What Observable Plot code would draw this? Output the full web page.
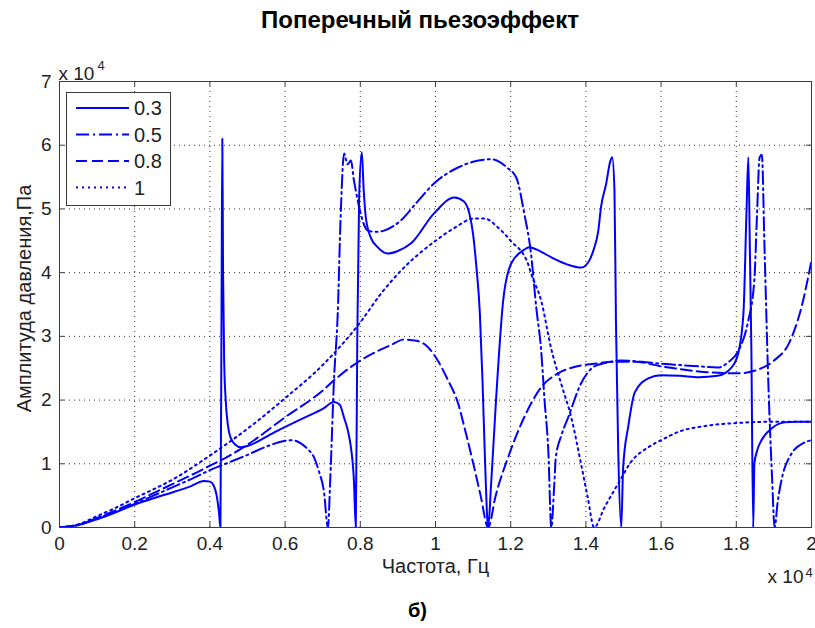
<!DOCTYPE html>
<html><head><meta charset="utf-8">
<script src="https://cdn.jsdelivr.net/npm/d3@7"></script>
<script src="https://cdn.jsdelivr.net/npm/@observablehq/plot@0.6"></script>
<style>
body{margin:0;background:#fff;font-family:"Liberation Sans",Arial,sans-serif;}
#wrap{position:relative;width:815px;height:628px;overflow:hidden;background:#fff}
#title{height:40px;line-height:40px;text-align:center;font-weight:bold;font-size:24px;padding-left:25px;box-sizing:border-box;color:#000}
#caption{height:40px;line-height:44px;text-align:center;font-weight:bold;font-size:20px;padding-left:20px;box-sizing:border-box;color:#000}
#legend{position:absolute;left:66px;top:92px;}
#chart svg{display:block}
</style></head>
<body>
<div id="wrap"><div id="title"></div><div id="chart"></div><div id="caption"></div><div id="legend"></div></div>
<script>
// ---- texts ----
const titleText = "Поперечный пьезоэффект";
const captionText = "б)";
const xLabel = "Частота, Гц";
const yLabel = "Амплитуда давления,Па";
const scaleText = "x 10";
const scaleExp = "4";

// ---- ticks (units of 10^4) ----
const xTicks = [0, 0.2, 0.4, 0.6, 0.8, 1, 1.2, 1.4, 1.6, 1.8, 2];
const xTickLabels = ["0", "0.2", "0.4", "0.6", "0.8", "1", "1.2", "1.4", "1.6", "1.8", "2"];
const yTicks = [0, 1, 2, 3, 4, 5, 6, 7];
const yTickLabels = ["0", "1", "2", "3", "4", "5", "6", "7"];

// ---- series (frequency x10^4 Hz, amplitude x10^4 Pa) ----
const seriesNames = ["0.3", "0.5", "0.8", "1"];

const x03 = [0, 0.05, 0.1, 0.15, 0.2, 0.25, 0.3, 0.35, 0.384, 0.4, 0.41, 0.418, 0.424, 0.428, 0.431, 0.433, 0.435, 0.438, 0.442, 0.448, 0.455, 0.468, 0.482, 0.5, 0.57, 0.65, 0.7, 0.73, 0.745, 0.757, 0.767, 0.775, 0.783, 0.788, 0.792, 0.797, 0.804, 0.809, 0.815, 0.828, 0.846, 0.873, 0.9, 0.935, 0.996, 1.05, 1.075, 1.09, 1.1, 1.108, 1.118, 1.125, 1.132, 1.14, 1.148, 1.161, 1.18, 1.201, 1.236, 1.249, 1.28, 1.308, 1.35, 1.387, 1.406, 1.42, 1.433, 1.44, 1.454, 1.465, 1.47, 1.476, 1.48, 1.486, 1.494, 1.499, 1.513, 1.53, 1.566, 1.6, 1.65, 1.7, 1.75, 1.787, 1.805, 1.819, 1.827, 1.832, 1.836, 1.84, 1.845, 1.848, 1.855, 1.867, 1.893, 1.928, 1.96, 2.0];
const y03 = [0, 0.04, 0.13, 0.24, 0.36, 0.46, 0.55, 0.65, 0.73, 0.72, 0.66, 0.5, 0.25, 0, 3.5, 6.1, 4.0, 2.6, 2.0, 1.6, 1.41, 1.3, 1.26, 1.28, 1.49, 1.72, 1.86, 1.97, 1.93, 1.72, 1.52, 1.26, 0.74, 0, 3.0, 5.2, 5.89, 5.3, 4.85, 4.55, 4.40, 4.30, 4.34, 4.46, 4.93, 5.18, 5.12, 4.93, 4.6, 4.14, 3.36, 2.3, 1.0, 0, 0.69, 2.0, 3.56, 4.14, 4.36, 4.40, 4.33, 4.24, 4.13, 4.08, 4.16, 4.35, 4.66, 5.02, 5.4, 5.75, 5.81, 5.29, 3.2, 1.2, 0, 0.94, 1.6, 2.12, 2.34, 2.39, 2.38, 2.36, 2.38, 2.51, 2.73, 3.36, 4.93, 5.81, 4.4, 2.83, 0, 1.0, 1.2, 1.37, 1.55, 1.65, 1.66, 1.66];

const x05 = [0, 0.05, 0.1, 0.15, 0.2, 0.25, 0.3, 0.35, 0.4, 0.45, 0.5, 0.55, 0.6, 0.62, 0.642, 0.66, 0.677, 0.69, 0.703, 0.714, 0.72, 0.73, 0.74, 0.748, 0.757, 0.766, 0.775, 0.783, 0.788, 0.8, 0.82, 0.845, 0.863, 0.908, 0.95, 0.996, 1.06, 1.1, 1.148, 1.19, 1.215, 1.236, 1.254, 1.268, 1.281, 1.29, 1.3, 1.308, 1.316, 1.32, 1.335, 1.353, 1.387, 1.42, 1.45, 1.494, 1.55, 1.6, 1.65, 1.7, 1.75, 1.78, 1.806, 1.83, 1.848, 1.855, 1.862, 1.868, 1.875, 1.885, 1.895, 1.902, 1.91, 1.92, 1.947, 1.98, 2.0];
const y05 = [0, 0.04, 0.14, 0.25, 0.37, 0.5, 0.63, 0.76, 0.9, 1.02, 1.14, 1.27, 1.36, 1.37, 1.32, 1.23, 1.1, 0.88, 0.58, 0, 0.74, 2.31, 3.36, 4.93, 5.87, 5.7, 5.76, 5.45, 5.29, 4.95, 4.66, 4.64, 4.66, 4.82, 5.1, 5.40, 5.65, 5.74, 5.78, 5.65, 5.49, 4.93, 4.30, 3.45, 2.78, 2.0, 1.21, 0, 0.69, 1.1, 1.45, 1.73, 2.26, 2.52, 2.58, 2.62, 2.6, 2.57, 2.55, 2.53, 2.51, 2.6, 2.78, 3.2, 3.88, 4.9, 5.81, 5.85, 4.4, 2.31, 0.8, 0, 0.4, 0.74, 1.16, 1.33, 1.37];

const x08 = [0, 0.05, 0.1, 0.15, 0.2, 0.25, 0.3, 0.35, 0.4, 0.45, 0.5, 0.6, 0.7, 0.73, 0.8, 0.88, 0.917, 0.95, 0.98, 1.006, 1.03, 1.06, 1.08, 1.103, 1.12, 1.14, 1.16, 1.193, 1.236, 1.281, 1.326, 1.369, 1.422, 1.475, 1.53, 1.6, 1.7, 1.806, 1.848, 1.9, 1.94, 1.973, 2.0];
const y08 = [0, 0.04, 0.15, 0.27, 0.4, 0.54, 0.68, 0.82, 0.97, 1.12, 1.3, 1.73, 2.15, 2.31, 2.62, 2.86, 2.95, 2.93, 2.83, 2.62, 2.35, 1.95, 1.5, 0.94, 0.5, 0, 0.5, 1.1, 1.73, 2.2, 2.42, 2.52, 2.57, 2.6, 2.6, 2.53, 2.45, 2.42, 2.46, 2.62, 2.89, 3.45, 4.19];

const x10 = [0, 0.05, 0.1, 0.15, 0.2, 0.25, 0.3, 0.4, 0.5, 0.6, 0.7, 0.8, 0.855, 0.908, 1.0, 1.05, 1.103, 1.13, 1.166, 1.2, 1.246, 1.254, 1.281, 1.308, 1.334, 1.361, 1.387, 1.405, 1.422, 1.449, 1.486, 1.52, 1.566, 1.6, 1.646, 1.726, 1.8, 1.9, 2.0];
const y10 = [0, 0.05, 0.18, 0.31, 0.46, 0.6, 0.75, 1.13, 1.55, 2.03, 2.55, 3.22, 3.67, 4.03, 4.5, 4.7, 4.85, 4.85, 4.71, 4.5, 4.14, 3.99, 3.56, 2.8, 2.26, 1.73, 1.0, 0.47, 0, 0.31, 0.69, 1.03, 1.26, 1.37, 1.5, 1.6, 1.64, 1.66, 1.66];

// ---- styles ----
const blue = "#0000ff";
const dashes = [null, "13,4,2,4", "11,5", "2,4"];

const seriesX = [x03, x05, x08, x10];
const seriesY = [y03, y05, y08, y10];
const tables = seriesX.map((xs, k) => xs.map((x, i) => ({x, y: seriesY[k][i]})));

const xLab = new Map(xTicks.map((t, i) => [t, xTickLabels[i]]));
const yLab = new Map(yTicks.map((t, i) => [t, yTickLabels[i]]));

const W = 815, H = 548, mL = 59, mR = 4, mT = 41, mB = 61;
const fw = W - mL - mR, fh = H - mT - mB, tick = 5;
const gridCol = "#303030", axCol = "#3c3c3c", txtCol = "#222";

const chart = Plot.plot({
  width: W, height: H,
  marginLeft: mL, marginRight: mR, marginTop: mT, marginBottom: mB,
  x: {domain: [0, 2], label: null},
  y: {domain: [0, 7], label: null},
  style: {fontFamily: "'Liberation Sans', Arial, sans-serif", fontSize: "19px", color: txtCol, background: "white", overflow: "visible"},
  marks: [
    Plot.ruleX(xTicks.slice(1, -1), {stroke: gridCol, strokeWidth: 1, strokeDasharray: "1,4"}),
    Plot.ruleY(yTicks.slice(1, -1), {stroke: gridCol, strokeWidth: 1, strokeDasharray: "1,4"}),
    ...tables.map((t, k) => Plot.line(t, {x: "x", y: "y", stroke: blue, strokeWidth: 2, strokeDasharray: dashes[k], curve: "monotone-x", clip: true})),
    Plot.ruleX(xTicks, {stroke: axCol, insetTop: fh - tick}),
    Plot.ruleX(xTicks, {stroke: axCol, insetBottom: fh - tick}),
    Plot.ruleY(yTicks, {stroke: axCol, insetRight: fw - tick}),
    Plot.ruleY(yTicks, {stroke: axCol, insetLeft: fw - tick}),
    Plot.frame({stroke: axCol, strokeWidth: 1}),
    Plot.axisX(xTicks, {tickSize: 0, tickPadding: 9, tickFormat: d => xLab.get(d), label: null, fontSize: 19, fill: txtCol}),
    Plot.axisY(yTicks, {tickSize: 0, tickPadding: 8, tickFormat: d => yLab.get(d), label: null, fontSize: 19, fill: txtCol}),
    Plot.text([xLabel], {text: d => d, frameAnchor: "bottom", textAnchor: "middle", dy: 45, fontSize: 20, fill: txtCol}),
    Plot.text([yLabel], {text: d => d, frameAnchor: "left", textAnchor: "middle", dx: -35, dy: -6, rotate: -90, fontSize: 20, fill: txtCol}),
    Plot.text([scaleText], {text: d => d, frameAnchor: "top-left", textAnchor: "start", dx: -1, dy: -15, fontSize: 19, fill: txtCol}),
    Plot.text([scaleExp], {text: d => d, frameAnchor: "top-left", textAnchor: "start", dx: 38, dy: -21, fontSize: 13, fill: txtCol}),
    Plot.text([scaleText], {text: d => d, frameAnchor: "bottom-right", textAnchor: "end", dx: -8, dy: 55, fontSize: 19, fill: txtCol}),
    Plot.text([scaleExp], {text: d => d, frameAnchor: "bottom-right", textAnchor: "start", dx: -6, dy: 49, fontSize: 13, fill: txtCol})
  ]
});
document.getElementById("chart").appendChild(chart);
document.getElementById("title").textContent = titleText;
document.getElementById("caption").textContent = captionText;

// ---- legend ----
const lg = d3.select("#legend").append("svg").attr("width", 106).attr("height", 115)
  .style("font-family", "'Liberation Sans', Arial, sans-serif");
lg.append("rect").attr("x", 0.5).attr("y", 0.5).attr("width", 104).attr("height", 113)
  .attr("fill", "white").attr("stroke", axCol);
seriesNames.forEach((name, k) => {
  const yy = 16 + k * 26.5;
  lg.append("line").attr("x1", 10).attr("x2", 63).attr("y1", yy).attr("y2", yy)
    .attr("stroke", blue).attr("stroke-width", 2).attr("stroke-dasharray", dashes[k]);
  lg.append("text").attr("x", 68).attr("y", yy).attr("dy", "0.35em")
    .attr("font-size", 20).attr("fill", txtCol).text(name);
});
</script>
</body></html>
